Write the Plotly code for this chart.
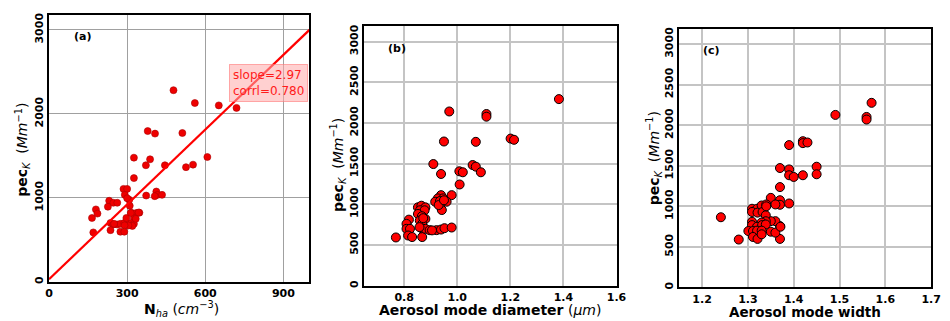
import plotly.graph_objects as go

# Panel (a): pec_K against N_ha
n_ha = [478, 560, 652, 720, 379, 407, 512, 326, 388, 372, 445, 526, 553, 608, 326,
        373, 412, 417, 406, 434,
        286, 300, 291, 308, 300, 231, 247, 262, 226, 180, 186, 165, 316, 335, 347, 326, 310,
        236, 247, 262, 274, 289, 302, 316, 326, 320, 305, 290, 236, 274, 289, 170, 250, 297, 333, 314, 344]
pec_a = [2282, 2129, 2101, 2071, 1795, 1765, 1772, 1478, 1459, 1388, 1388, 1365, 1395, 1486, 1235,
         1027, 1075, 1035, 1020, 1035,
         1106, 1106, 1035, 976, 995, 965, 941, 941, 894, 862, 812, 760, 823, 819, 823, 760, 905,
         700, 682, 682, 690, 700, 690, 700, 690, 665, 670, 672, 615, 596, 596, 588, 690, 760, 750, 820, 825]
fit_slope = 2.97
fit_intercept = 30
fit_corr = 0.780

# Panel (b): pec_K against aerosol mode diameter
diam = [1.383, 0.970, 1.110, 1.110, 0.950, 1.070, 1.201, 1.214, 0.910, 1.058, 1.070, 1.008, 1.021,
        1.089, 0.939, 1.009, 0.979,
        0.939, 0.927, 0.947, 0.917, 0.935, 0.960, 0.942, 0.930, 0.950,
        0.852, 0.865, 0.880, 0.860, 0.877, 0.852, 0.867, 0.880, 0.859, 0.868, 0.818, 0.809, 0.809,
        0.822, 0.815, 0.830, 0.769, 0.868, 0.865, 0.880, 0.896, 0.922, 0.939, 0.952, 0.979, 0.905,
        0.872, 0.858]
pec_b = [2293, 2141, 2110, 2077, 1772, 1768, 1808, 1793, 1495, 1483, 1463, 1406, 1394,
         1394, 1373, 1244, 1113,
         1113, 1073, 1073, 1032, 1040, 1032, 930, 991, 1050,
         963, 983, 963, 927, 927, 882, 854, 821, 800, 760, 812, 760, 699,
         699, 617, 598, 593, 598, 707, 699, 683, 683, 690, 707, 715, 680,
         830, 720]

# Panel (c): pec_K against aerosol mode width
width = [1.570, 1.491, 1.559, 1.559, 1.420, 1.420, 1.430, 1.390, 1.450, 1.450, 1.370, 1.390, 1.390,
         1.400, 1.420, 1.370, 1.350, 1.370, 1.370, 1.390, 1.360, 1.241, 1.280, 1.370, 1.370, 1.360,
         1.350, 1.350, 1.360,
         1.309, 1.320, 1.330, 1.340, 1.309, 1.321, 1.332, 1.339, 1.339, 1.309, 1.309, 1.330, 1.320,
         1.331, 1.339, 1.371, 1.301, 1.311, 1.320, 1.330, 1.311, 1.321, 1.330, 1.340]
pec_c = [2276, 2127, 2102, 2070, 1803, 1779, 1787, 1755, 1488, 1395, 1472, 1455, 1383,
         1362, 1383, 1237, 1104, 1075, 1019, 1035, 1023, 865, 590, 756, 598, 817,
         817, 687, 675,
         970, 970, 1010, 1023, 930, 922, 930, 889, 816, 809, 768, 800, 748,
         768, 776, 748, 695, 695, 700, 700, 622, 598, 655, 1000]

W, H = 950, 321


def xdom(x0, x1):
    return [x0 / W, x1 / W]


def ydom(top, bottom):
    return [1 - bottom / H, 1 - top / H]


fig = go.Figure()

edge_b = dict(color="black", width=1)
fig.add_trace(go.Scatter(x=n_ha, y=pec_a, mode="markers", xaxis="x", yaxis="y",
                         marker=dict(size=7, color="#ee0000", line=dict(color="#aa0000", width=0.6))))
line_x = [0, 1000]
line_y = [fit_slope * v + fit_intercept for v in line_x]
fig.add_trace(go.Scatter(x=line_x, y=line_y, mode="lines", xaxis="x", yaxis="y",
                         line=dict(color="#ff0000", width=2.2)))
fig.add_trace(go.Scatter(x=diam, y=pec_b, mode="markers", xaxis="x2", yaxis="y2",
                         marker=dict(size=9, color="#ff0000", line=edge_b)))
fig.add_trace(go.Scatter(x=width, y=pec_c, mode="markers", xaxis="x3", yaxis="y3",
                         marker=dict(size=9, color="#ff0000", line=edge_b)))

tick_font = dict(family="DejaVu Sans", size=11, color="black", weight="bold")


def axis(dom, rng, dtick, grid, gw, tickangle=0):
    return dict(domain=dom, range=rng, dtick=dtick, showgrid=True, gridcolor=grid, gridwidth=gw,
                showline=True, linecolor="black", linewidth=2, mirror=True, ticks="",
                zeroline=False, tickfont=tick_font, tickangle=tickangle, ticklen=0)


fig.update_layout(
    width=W, height=H, margin=dict(l=0, r=0, t=0, b=0),
    paper_bgcolor="white", plot_bgcolor="white", showlegend=False,
    xaxis=dict(axis(xdom(45.7, 310), [0, 1000], 300, "#a0a0a0", 1), anchor="y"),
    yaxis=dict(axis(ydom(13.3, 283.3), [0, 3176], 1000, "#a0a0a0", 1, -90), anchor="x"),
    xaxis2=dict(axis(xdom(365.7, 621.7), [0.65, 1.6], 0.2, "#c4c4c4", 1.5),
                anchor="y2", tickformat=".1f"),
    yaxis2=dict(axis(ydom(24, 287.3), [0, 3195], 500, "#c4c4c4", 1.5, -90), anchor="x2"),
    xaxis3=dict(axis(xdom(685.3, 941), [1.15, 1.7], 0.1, "#c4c4c4", 1.5),
                anchor="y3", tickformat=".1f"),
    yaxis3=dict(axis(ydom(27.3, 289), [0, 3187], 500, "#c4c4c4", 1.5, -90), anchor="x3"),
)

ann = []


def text(x, y, s, size, angle=0, weight="normal", color="black"):
    ann.append(dict(x=x / W, y=1 - y / H, xref="paper", yref="paper", text=s, showarrow=False,
                    textangle=angle, xanchor="center", yanchor="middle",
                    font=dict(family="DejaVu Sans", size=size, color=color, weight=weight)))


ytitle = "<b>pec</b><sub><i>K</i></sub>  (<i>Mm</i><sup>−1</sup>)"
text(19, 150, ytitle, 14, -90)
text(339, 165, ytitle, 14, -90)
text(660, 158, ytitle, 14, -90)
text(180, 311, "<b>N</b><sub><i>ha</i></sub> (<i>cm</i><sup>−3</sup>)", 14)
text(493, 312, "<b>Aerosol mode diameter</b> (<i>μm</i>)", 14)
text(813, 314, "<b>Aerosol mode width</b>", 13.5)
text(80, 35, "(a)", 11, weight="bold")
text(399, 47, "(b)", 11, weight="bold")
text(718, 49, "(c)", 11, weight="bold")

ann.append(dict(x=690, y=2370, xref="x", yref="y", xanchor="left", yanchor="middle",
                text=f"slope={fit_slope:.2f}<br>corrl={fit_corr:.3f}", showarrow=False, align="left",
                bgcolor="rgba(255,170,170,0.55)", bordercolor="rgba(255,120,120,0.6)", borderwidth=1,
                borderpad=3, font=dict(family="DejaVu Sans", size=12, color="#ff1a1a")))
fig.update_layout(annotations=ann)

fig.write_html("out.html")
